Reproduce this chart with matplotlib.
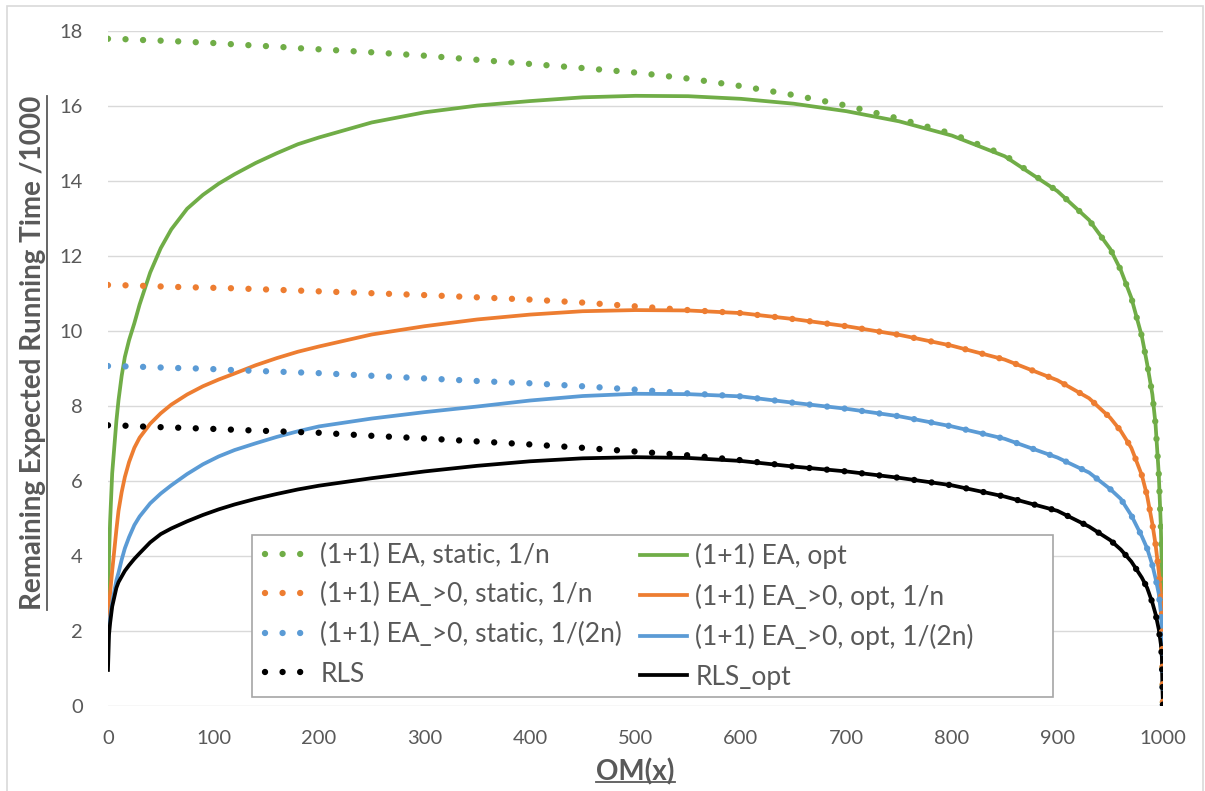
import matplotlib
matplotlib.use("Agg")
import matplotlib.pyplot as plt
from matplotlib.lines import Line2D
from matplotlib.patches import Rectangle

x_om = [0, 1, 2, 4, 6, 8, 10, 13, 16, 20, 25, 30, 40, 50, 60, 75, 90, 105, 120, 140,
        160, 180, 200, 250, 300, 350, 400, 450, 500, 550, 600, 650, 700, 750, 800, 850,
        900, 930, 950, 960, 970, 980, 985, 990, 993, 996, 998, 999, 1000]

# remaining expected running time / 1000
ea_static = [17.78, 17.78, 17.78, 17.78, 17.78, 17.78, 17.77, 17.77, 17.77, 17.76, 17.76, 17.75,
             17.74, 17.73, 17.72, 17.70, 17.68, 17.66, 17.63, 17.60, 17.57, 17.53, 17.50, 17.42,
             17.33, 17.22, 17.11, 17.00, 16.88, 16.72, 16.52, 16.28, 16.00, 15.65, 15.25, 14.68,
             13.72, 12.95, 12.18, 11.62, 10.88, 9.85, 9.12, 8.30, 7.50, 6.20, 4.80, 3.60, 0.0]
ea_opt = [2.6, 4.0, 4.9, 6.2, 6.9, 7.6, 8.15, 8.8, 9.3, 9.75, 10.2, 10.7,
          11.55, 12.2, 12.7, 13.25, 13.62, 13.92, 14.17, 14.47, 14.73, 14.97, 15.15, 15.55,
          15.82, 16.0, 16.12, 16.22, 16.26, 16.25, 16.18, 16.05, 15.85, 15.58, 15.2, 14.65,
          13.72, 12.95, 12.18, 11.62, 10.88, 9.85, 9.12, 8.30, 7.50, 6.20, 4.80, 3.60, 0.0]
ea_pos_static = [11.22, 11.22, 11.22, 11.22, 11.22, 11.22, 11.21, 11.21, 11.21, 11.21, 11.20, 11.20,
                 11.19, 11.18, 11.17, 11.16, 11.15, 11.14, 11.13, 11.11, 11.09, 11.07, 11.05, 11.00,
                 10.95, 10.89, 10.83, 10.75, 10.65, 10.55, 10.47, 10.31, 10.12, 9.89, 9.60, 9.23,
                 8.68, 8.20, 7.68, 7.33, 6.88, 6.15, 5.60, 4.85, 4.30, 3.60, 3.00, 2.60, 0.0]
ea_pos_opt = [2.2, 2.6, 3.0, 3.6, 4.15, 4.7, 5.2, 5.7, 6.1, 6.5, 6.88, 7.15,
              7.52, 7.8, 8.03, 8.3, 8.52, 8.7, 8.86, 9.08, 9.27, 9.44, 9.58, 9.9,
              10.12, 10.3, 10.43, 10.52, 10.55, 10.54, 10.47, 10.31, 10.12, 9.89, 9.60, 9.23,
              8.68, 8.20, 7.68, 7.33, 6.88, 6.15, 5.60, 4.85, 4.30, 3.60, 3.00, 2.60, 0.0]
ea_pos_static_2n = [9.06, 9.06, 9.06, 9.06, 9.06, 9.06, 9.05, 9.05, 9.05, 9.05, 9.04, 9.04,
                    9.03, 9.02, 9.01, 9.00, 8.99, 8.97, 8.95, 8.93, 8.91, 8.89, 8.87, 8.80,
                    8.73, 8.66, 8.60, 8.52, 8.43, 8.33, 8.25, 8.08, 7.92, 7.72, 7.45, 7.12,
                    6.62, 6.22, 5.78, 5.52, 5.08, 4.52, 4.20, 3.75, 3.40, 3.00, 2.50, 2.10, 0.0]
ea_pos_opt_2n = [1.7, 2.1, 2.35, 2.75, 3.05, 3.35, 3.55, 3.9, 4.2, 4.5, 4.82, 5.05,
                 5.4, 5.66, 5.88, 6.18, 6.44, 6.65, 6.82, 7.0, 7.17, 7.32, 7.45, 7.66,
                 7.83, 7.98, 8.14, 8.26, 8.32, 8.31, 8.25, 8.08, 7.92, 7.72, 7.45, 7.12,
                 6.62, 6.22, 5.78, 5.52, 5.08, 4.52, 4.20, 3.75, 3.40, 3.00, 2.50, 2.10, 0.0]
rls = [7.48, 7.48, 7.48, 7.48, 7.48, 7.47, 7.47, 7.47, 7.47, 7.46, 7.46, 7.45,
       7.44, 7.43, 7.42, 7.41, 7.39, 7.38, 7.36, 7.34, 7.32, 7.30, 7.28, 7.20,
       7.13, 7.05, 6.97, 6.88, 6.78, 6.68, 6.55, 6.38, 6.25, 6.08, 5.88, 5.58,
       5.20, 4.78, 4.42, 4.17, 3.85, 3.42, 3.15, 2.75, 2.45, 2.05, 1.65, 1.30, 0.0]
rls_opt = [0.96, 1.9, 2.2, 2.65, 2.9, 3.15, 3.3, 3.45, 3.6, 3.75, 3.92, 4.07,
           4.36, 4.58, 4.73, 4.92, 5.09, 5.24, 5.37, 5.52, 5.65, 5.77, 5.87, 6.07,
           6.25, 6.4, 6.52, 6.6, 6.63, 6.61, 6.53, 6.38, 6.25, 6.08, 5.88, 5.58,
           5.20, 4.78, 4.42, 4.17, 3.85, 3.42, 3.15, 2.75, 2.45, 2.05, 1.65, 1.30, 0.0]

labels_static = ["(1+1) EA, static, 1/n", "(1+1) EA_>0, static, 1/n",
                 "(1+1) EA_>0, static, 1/(2n)", "RLS"]
labels_opt = ["(1+1) EA, opt", "(1+1) EA_>0, opt, 1/n",
              "(1+1) EA_>0, opt, 1/(2n)", "RLS_opt"]
colors = ["#70AD47", "#ED7D31", "#5B9BD5", "#000000"]

static_series = [ea_static, ea_pos_static, ea_pos_static_2n, rls]
opt_series = [ea_opt, ea_pos_opt, ea_pos_opt_2n, rls_opt]

plt.rcParams['font.family'] = ['Lato', 'DejaVu Sans']
grey = "#595959"

fig = plt.figure(figsize=(12.05, 7.91), dpi=100)
ax = fig.add_axes([0.0896, 0.1075, 0.8755, 0.8539])

handles_static = []
handles_opt = []
for ys, yo, c in zip(static_series, opt_series, colors):
    h2, = ax.plot(x_om, yo, color=c, lw=2.7, zorder=3)
    h1, = ax.plot(x_om, ys, color=c, lw=4.6, linestyle=(0, (0.001, 2.75)),
                  dash_capstyle="round", zorder=4)
    handles_static.append(h1)
    handles_opt.append(h2)

ax.set_xlim(0, 1000)
ax.set_ylim(0, 18)
ax.set_xticks(range(0, 1001, 100))
ax.set_yticks(range(0, 19, 2))
ax.grid(axis="y", color="#d9d9d9", lw=1.0)
ax.set_axisbelow(True)
for s in ax.spines.values():
    s.set_visible(False)
ax.tick_params(length=0, labelsize=14.5, labelcolor=grey)
ax.tick_params(axis="y", pad=18)
ax.tick_params(axis="x", pad=17)

ax.set_ylabel("Remaining Expected Running Time /1000", fontsize=20, fontweight="bold", color=grey)
ax.set_xlabel("OM(x)", fontsize=20, fontweight="bold", color=grey)
ax.yaxis.set_label_coords(-0.059, 0.5226)
ax.xaxis.set_label_coords(0.5, -0.077)

# legend: frame box plus two single-column legends
ax.add_patch(Rectangle((0.1365, 0.0133), 0.7592, 0.2398, transform=ax.transAxes,
                       facecolor="white", edgecolor="#a6a6a6", lw=1.2, zorder=5))
leg_kw = dict(loc="upper left", fontsize=19, frameon=False, handlelength=1.8,
              handletextpad=0.3, labelspacing=0.55, borderpad=0, borderaxespad=0,
              labelcolor=grey)
leg1 = ax.legend(handles_static, labels_static, bbox_to_anchor=(0.1488, 0.2416), **leg_kw)
leg1.set_zorder(6)
ax.add_artist(leg1)
leg2 = ax.legend(handles_opt, labels_opt, bbox_to_anchor=(0.5043, 0.2416), **leg_kw)
leg2.set_zorder(6)

# chart border
fig.patches.append(Rectangle((7 / 1205, -0.01), 1196 / 1205, 1 - 6 / 791 + 0.01,
                             transform=fig.transFigure, fill=False,
                             edgecolor="#d9d9d9", lw=1.2))

# underline the axis titles
fig.canvas.draw()
inv = fig.transFigure.inverted()
bx = ax.xaxis.label.get_window_extent().transformed(inv)
fig.add_artist(Line2D([bx.x0, bx.x1], [bx.y0 + 0.004, bx.y0 + 0.004],
                      transform=fig.transFigure, color=grey, lw=1.3))
by = ax.yaxis.label.get_window_extent().transformed(inv)
fig.add_artist(Line2D([by.x1 + 0.001, by.x1 + 0.001], [by.y0, by.y1],
                      transform=fig.transFigure, color=grey, lw=1.3))

fig.savefig("out.png", dpi=100)
